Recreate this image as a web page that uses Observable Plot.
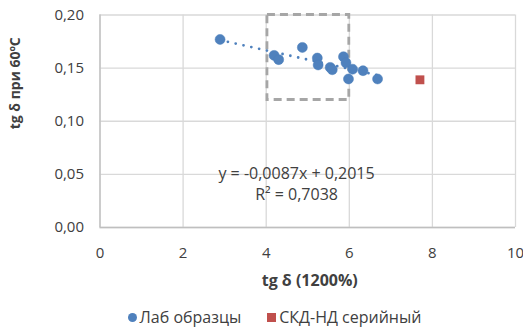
<!DOCTYPE html>
<html><head><meta charset="utf-8">
<script src="https://cdn.jsdelivr.net/npm/d3@7"></script>
<script src="https://cdn.jsdelivr.net/npm/@observablehq/plot@0.6"></script>
<style>
html,body{margin:0;background:#fff;font-family:"Open Sans",sans-serif;overflow:hidden}
#chart svg{display:block}
#legend{display:flex;justify-content:center;align-items:center;gap:26px;font-size:16px;line-height:20px;color:#404040;height:29px;box-sizing:border-box;padding-top:5px;margin-left:26px}
.item{display:flex;align-items:center;gap:3px}
.dot{width:9px;height:9px;border-radius:50%;background:#4F81BD}
.sq{width:9px;height:9px;background:#C0504D}
</style>
</head><body><div id="chart"></div>
<div id="legend"><span class="item"><span class="dot"></span>Лаб образцы</span><span class="item"><span class="sq"></span>СКД-НД серийный</span></div>
<script>
const labX = [2.89, 4.19, 4.30, 4.87, 5.23, 5.25, 5.54, 5.59, 5.86, 5.92, 6.08, 5.98, 6.33, 6.68];
const labY = [0.177, 0.162, 0.158, 0.1695, 0.1595, 0.153, 0.1507, 0.1485, 0.1607, 0.155, 0.149, 0.1398, 0.1476, 0.1398];
const serialX = [7.7];
const serialY = [0.139];
const slope = -0.0087, intercept = 0.2015;
const trendX = [2.89, 6.68];
const boxX = [4.03, 6.0];
const boxY = [0.12, 0.20];
const xTicks = [0, 2, 4, 6, 8, 10];
const yTicks = [0, 0.05, 0.10, 0.15, 0.20];
const eqText = ["y = -0,0087x + 0,2015", "R² = 0,7038"];

const lab = labX.map((x, i) => ({x, y: labY[i]}));
const serial = serialX.map((x, i) => ({x, y: serialY[i]}));
const trend = trendX.map(x => ({x, y: slope * x + intercept}));
const box = [{x1: boxX[0], x2: boxX[1], y1: boxY[0], y2: boxY[1]}];
const fmtY = d => d.toFixed(2).replace(".", ",");
const FONT = "'Open Sans', sans-serif";

const plot = Plot.plot({
  width: 523, height: 300,
  marginTop: 14.5, marginBottom: 73, marginLeft: 99.5, marginRight: 8,
  style: {fontFamily: FONT, fontSize: "15px", color: "#404040", background: "#fff"},
  x: {domain: [0, 10], ticks: xTicks, label: null},
  y: {domain: [0, 0.2], ticks: yTicks, label: null, tickFormat: fmtY},
  marks: [
    Plot.gridX(xTicks, {stroke: "#d9d9d9", strokeOpacity: 1, strokeWidth: 1.3}),
    Plot.gridY(yTicks, {stroke: "#d9d9d9", strokeOpacity: 1, strokeWidth: 1.3}),
    Plot.ruleX([0], {stroke: "#bfbfbf", strokeWidth: 1.3}),
    Plot.ruleY([0], {stroke: "#bfbfbf", strokeWidth: 1.3}),
    Plot.axisX(xTicks, {tickSize: 0, tickPadding: 20, fontSize: 15, fill: "#404040"}),
    Plot.axisY(yTicks, {tickSize: 0, tickPadding: 16, fontSize: 15, fill: "#404040", tickFormat: fmtY}),
    Plot.rect(box, {x1: "x1", x2: "x2", y1: "y1", y2: "y2", fill: "none", stroke: "#a6a6a6", strokeWidth: 2.8, strokeDasharray: "8,5"}),
    Plot.line(trend, {x: "x", y: "y", stroke: "#4F81BD", strokeWidth: 2.8, strokeDasharray: "0,8", strokeLinecap: "round"}),
    Plot.dot(lab, {x: "x", y: "y", r: 5, fill: "#4F81BD", stroke: "#4a7ebb", strokeWidth: 0.5}),
    Plot.dot(serial, {x: "x", y: "y", r: 5, symbol: "square", fill: "#C0504D"}),
    Plot.text([eqText[0]], {x: 4.73, y: 0.0505, text: d => d, fontSize: 16, fill: "#404040"}),
    Plot.text([eqText[1]], {x: 4.73, y: 0.0305, text: d => d, fontSize: 16, fill: "#404040"}),
    Plot.text(["tg δ (1200%)"], {frameAnchor: "bottom", dx: 2, dy: 58, text: d => d, fontSize: 16, fontWeight: "bold", fill: "#404040"}),
    Plot.text(["tg δ при 60ºC"], {frameAnchor: "left", dx: -84, dy: 8, rotate: -90, text: d => d, fontSize: 14, fontWeight: "bold", fill: "#404040"})
  ]
});
document.getElementById("chart").append(plot);
</script>
</body></html>
